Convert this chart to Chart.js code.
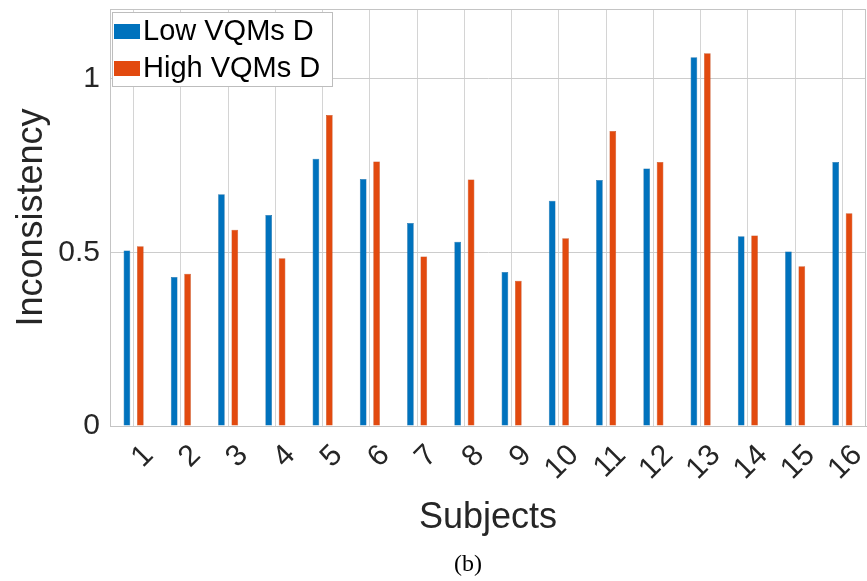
<!DOCTYPE html>
<html>
<head>
<meta charset="utf-8">
<script src="https://cdn.jsdelivr.net/npm/chart.js@4.4.1/dist/chart.umd.min.js"></script>
<style>
	html, body {margin: 0; padding: 0; background: #ffffff;}
	#chart-view {width: 867px; height: 581px; position: relative;}
</style>
</head>
<body>
<div id="chart-view"><canvas id="chart"></canvas></div>
<script>
// inconsistency per subject, low vs high VQMs
var subjects = ['1', '2', '3', '4', '5', '6', '7', '8', '9', '10', '11', '12', '13', '14', '15', '16'];
var lowVQMs = [0.505, 0.429, 0.667, 0.607, 0.769, 0.711, 0.584, 0.530, 0.443, 0.648, 0.708, 0.741, 1.061, 0.546, 0.502, 0.760];
var highVQMs = [0.517, 0.438, 0.565, 0.483, 0.895, 0.761, 0.488, 0.709, 0.418, 0.540, 0.849, 0.760, 1.073, 0.548, 0.460, 0.612];
var yTicks = [0, 0.5, 1];

var textColor = '#262626';
var fontFamily = '"Liberation Sans", Arial, Helvetica, sans-serif';

// box round the plot, legend inside the top left corner, caption below
var figurePlugin =
{
	id: 'figure',
	afterDraw: function (chart)
	{
		var ctx = chart.ctx;
		var area = chart.chartArea;

		ctx.save();
		ctx.strokeStyle = '#c4c4c4';
		ctx.lineWidth = 1;
		ctx.strokeRect(area.left + 0.5, area.top + 0.5, area.right - area.left - 1, area.bottom - area.top);

		var x = area.left + 2;
		var y = area.top + 3;
		ctx.fillStyle = '#ffffff';
		ctx.fillRect(x, y, 220, 74);
		ctx.strokeStyle = '#bdbdbd';
		ctx.strokeRect(x + 0.5, y + 0.5, 220, 74);

		ctx.font = '29px ' + fontFamily;
		ctx.textBaseline = 'middle';
		ctx.textAlign = 'left';

		chart.data.datasets.forEach(function (dataset, index)
		{
			var rowY = y + 19 + index * 37;
			ctx.fillStyle = dataset.backgroundColor;
			ctx.fillRect(x + 2, rowY - 7, 26, 15);
			ctx.fillStyle = '#000000';
			ctx.fillText(dataset.label, x + 31, rowY + 1);
		});

		ctx.font = '24px "Liberation Serif", "Times New Roman", serif';
		ctx.fillStyle = '#000000';
		ctx.textAlign = 'center';
		ctx.fillText('(b)', (area.left + area.right) / 2 - 20, chart.height - 16);
		ctx.restore();
	}
};

new Chart(document.getElementById('chart'),
{
	type: 'bar',
	data:
	{
		labels: subjects,
		datasets:
		[
			{
				label: 'Low VQMs D',
				data: lowVQMs,
				backgroundColor: '#0072BD',
				borderColor: '#0a5f99',
				borderWidth: 0.5
			},
			{
				label: 'High VQMs D',
				data: highVQMs,
				backgroundColor: '#E24A0F',
				borderColor: '#b83d0e',
				borderWidth: 0.5
			}
		]
	},
	options:
	{
		responsive: true,
		maintainAspectRatio: false,
		animation: false,
		categoryPercentage: 0.567,
		barPercentage: 0.5,
		layout: {padding: {left: 0, right: 1, top: 9, bottom: 0}},
		plugins:
		{
			legend: {display: false},
			tooltip: {enabled: false}
		},
		scales:
		{
			x:
			{
				grid: {offset: false, color: '#d4d4d4', drawTicks: false},
				border: {color: '#bdbdbd'},
				ticks:
				{
					color: textColor,
					font: {family: fontFamily, size: 30},
					autoSkip: false,
					minRotation: 45,
					maxRotation: 45,
					padding: 12,
					labelOffset: 15
				},
				title:
				{
					display: true,
					text: 'Subjects',
					color: textColor,
					font: {family: fontFamily, size: 36},
					padding: {top: 0, bottom: 41}
				},
				afterFit: function (scale)
				{
					scale.height = 155;
					scale.paddingLeft = 0;
					scale.paddingRight = 0;
				}
			},
			y:
			{
				min: 0,
				max: 1.2,
				grid: {color: '#cccccc', drawTicks: false},
				border: {color: '#bdbdbd'},
				afterBuildTicks: function (scale)
				{
					scale.ticks = yTicks.map(function (value) {return {value: value};});
				},
				ticks:
				{
					color: textColor,
					font: {family: fontFamily, size: 30},
					padding: 10,
					callback: function (value) {return String(value);}
				},
				title:
				{
					display: true,
					text: 'Inconsistency',
					color: textColor,
					font: {family: fontFamily, size: 36},
					padding: {top: 10, bottom: 0}
				},
				afterFit: function (scale)
				{
					scale.width = 110;
					scale.paddingTop = 0;
					scale.paddingBottom = 0;
				}
			}
		}
	},
	plugins: [figurePlugin]
});
</script>
</body>
</html>
